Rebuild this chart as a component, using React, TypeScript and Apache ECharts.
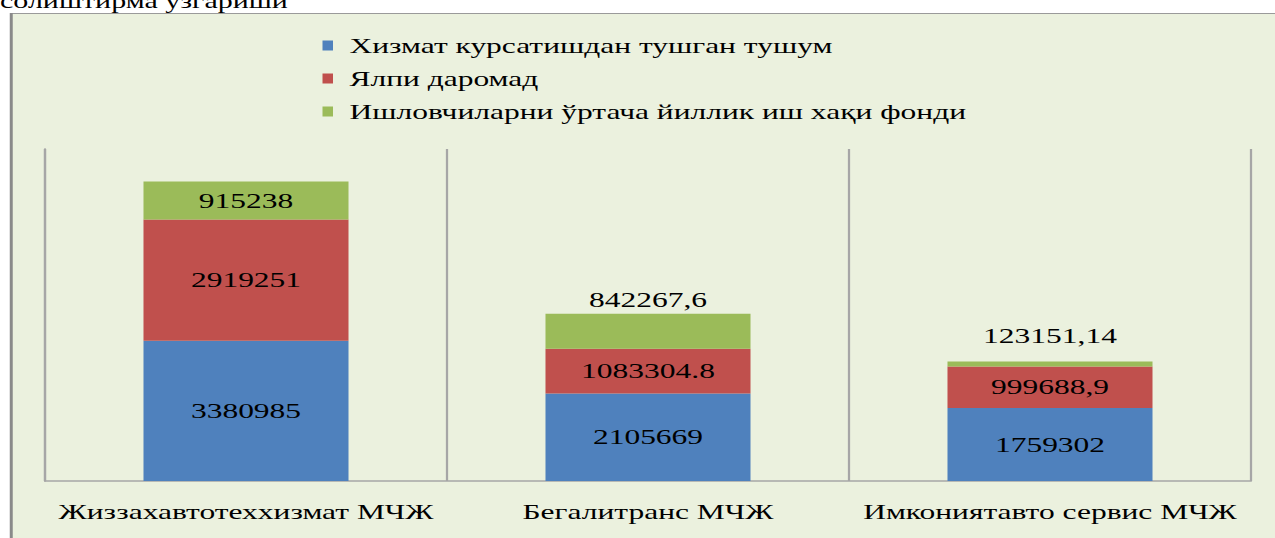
import React, { useEffect, useRef } from "react";
import * as echarts from "echarts";

const categories = ["Жиззахавтотеххизмат МЧЖ", "Бегалитранс МЧЖ", "Имкониятавто сервис МЧЖ"];
const seriesNames = [
  "Хизмат курсатишдан тушган тушум",
  "Ялпи даромад",
  "Ишловчиларни ўртача йиллик иш хақи фонди",
];
const revenue = [3380985, 2105669, 1759302];
const grossIncome = [2919251, 1083304.8, 999688.9];
const wageFund = [915238, 842267.6, 123151.14];
const revenueLabels = ["3380985", "2105669", "1759302"];
const grossLabels = ["2919251", "1083304.8", "999688,9"];
const wageLabels = ["915238", "842267,6", "123151,14"];
const titleText = "солиштирма ўзгариши";

const COLORS = ["#4f81bd", "#c0504d", "#9bbb59"];
const FONT = "'Liberation Serif', 'DejaVu Serif', serif";
const SX = 1.5;
const W = 850;
const H = 538;

export default function App() {
  const ref = useRef<HTMLDivElement>(null);
  useEffect(() => {
    if (!ref.current) return;
    const chart = echarts.init(ref.current, null, { renderer: "svg", width: W, height: H });
    const lbl = (arr: string[]) => (p: any) => arr[p.dataIndex];
    const labelBase = {
      show: true,
      color: "#000",
      fontFamily: FONT,
      fontSize: 21,
    };
    chart.setOption({
      animation: false,
      backgroundColor: "transparent",
      textStyle: { fontFamily: FONT },
      graphic: [
        {
          type: "rect",
          z: -10,
          shape: { x: 7.5, y: 13.5, width: W, height: H },
          style: { fill: "#ebf1de", stroke: "#9a9a9a", lineWidth: 1 },
        },
        {
          type: "line",
          z: -9,
          shape: { x1: 7.5, y1: 13, x2: 7.5, y2: H },
          style: { stroke: "#8a8a8a", lineWidth: 2 },
        },
        {
          type: "text",
          x: 0,
          y: 1,
          style: {
            text: titleText,
            fontFamily: FONT,
            fontSize: 20,
            fill: "#000",
            verticalAlign: "middle",
          },
        },
      ],
      legend: {
        orient: "vertical",
        left: 210,
        top: 29,
        itemWidth: 7,
        itemHeight: 10,
        itemGap: 10,
        icon: "rect",
        textStyle: { fontFamily: FONT, fontSize: 21, color: "#000", lineHeight: 23, padding: [0, 0, 0, 6] },
        data: seriesNames,
      },
      grid: { left: 30, right: 16, top: 149, bottom: 57 },
      xAxis: {
        type: "category",
        data: categories,
        axisLine: { show: true, lineStyle: { color: "#a6a6a6", width: 1.5 } },
        axisTick: { show: false },
        splitLine: { show: true, lineStyle: { color: "#a6a6a6", width: 1.5 } },
        axisLabel: { fontFamily: FONT, fontSize: 21, color: "#000", margin: 20, interval: 0 },
      },
      yAxis: {
        type: "value",
        min: 0,
        max: 8000000,
        axisLine: { show: true, lineStyle: { color: "#a6a6a6", width: 1.5 } },
        axisTick: { show: false },
        axisLabel: { show: false },
        splitLine: { show: false },
      },
      series: [
        {
          name: seriesNames[0],
          type: "bar",
          stack: "s",
          barWidth: "51%",
          itemStyle: { color: COLORS[0] },
          label: { ...labelBase, position: "inside", formatter: lbl(revenueLabels) },
          data: revenue,
        },
        {
          name: seriesNames[1],
          type: "bar",
          stack: "s",
          barWidth: "51%",
          itemStyle: { color: COLORS[1] },
          label: { ...labelBase, position: "inside", formatter: lbl(grossLabels) },
          data: grossIncome,
        },
        {
          name: seriesNames[2],
          type: "bar",
          stack: "s",
          barWidth: "51%",
          itemStyle: { color: COLORS[2] },
          label: { ...labelBase, formatter: lbl(wageLabels) },
          data: wageFund.map((v, i) => ({
            value: v,
            label: i === 0 ? { position: "inside" } : { position: "top", distance: i === 1 ? 3 : 15 },
          })),
        },
      ],
    });
    return () => chart.dispose();
  }, []);
  return (
    <div
      ref={ref}
      style={{
        position: "absolute",
        left: 0,
        top: 0,
        width: W,
        height: H,
        transform: `scaleX(${SX})`,
        transformOrigin: "0 0",
      }}
    />
  );
}
